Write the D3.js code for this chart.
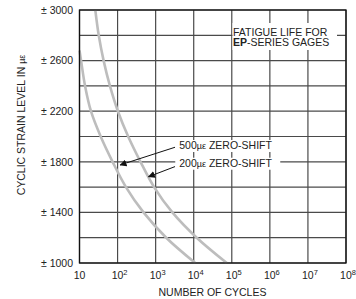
<!DOCTYPE html>
<html>
<head>
<meta charset="utf-8">
<script src="https://cdn.jsdelivr.net/npm/d3@7/dist/d3.min.js"></script>
<style>
  body { margin: 0; background: #fff; }
  text { font-family: "Liberation Sans", Arial, Helvetica, sans-serif; fill: #222; }
</style>
</head>
<body>
<div id="chart"></div>
<script>
// strain levels (micro-strain) and cycles
var strain500 = [2680, 2600, 2400, 2200, 2000, 1800, 1600, 1400, 1200, 1000];
var cycles500 = [10, 11, 14, 20, 36, 74, 166, 480, 1900, 11000];
var strain200 = [3000, 2800, 2600, 2400, 2200, 2000, 1800, 1600, 1400, 1200, 1000];
var cycles200 = [26, 32, 43, 63, 102, 190, 400, 910, 2750, 12000, 74000];

var yTicks = [1000, 1400, 1800, 2200, 2600, 3000];
var yGrid = d3.range(1000, 3001, 200);
var xExp = [1, 2, 3, 4, 5, 6, 7, 8];

// annotation: label anchor and arrow tip, in data units
var notes = [
  { label: "500", tipN: 117, tipS: 1775, fromN: 3230, fromS: 1915, textN: 4170, textS: 1901 },
  { label: "200", tipN: 650, tipS: 1682, fromN: 3230, fromS: 1762, textN: 4170, textS: 1761 }
];

var W = 356, H = 299;
var pLeft = 79.5, pRight = 346, pTop = 10, pBottom = 263;

var svg = d3.select("#chart").append("svg")
  .attr("width", W)
  .attr("height", H);

var x = d3.scaleLog().domain([10, 1e8]).range([pLeft, pRight]);
var y = d3.scaleLinear().domain([1000, 3000]).range([pBottom, pTop]);

// grid
svg.append("g").selectAll("line")
  .data(yGrid)
  .enter().append("line")
  .attr("x1", pLeft).attr("x2", pRight)
  .attr("y1", function(d) { return y(d); })
  .attr("y2", function(d) { return y(d); })
  .attr("stroke", "#4a4a4a")
  .attr("stroke-width", 1.2);

svg.append("g").selectAll("line")
  .data(xExp)
  .enter().append("line")
  .attr("x1", function(d) { return x(Math.pow(10, d)); })
  .attr("x2", function(d) { return x(Math.pow(10, d)); })
  .attr("y1", pTop).attr("y2", pBottom)
  .attr("stroke", "#4a4a4a")
  .attr("stroke-width", 1.2);

// curves
var line = d3.line()
  .x(function(d) { return x(d[0]); })
  .y(function(d) { return y(d[1]); })
  .curve(d3.curveCatmullRom);

[[cycles500, strain500], [cycles200, strain200]].forEach(function(s) {
  svg.append("path")
    .datum(d3.zip(s[0], s[1]))
    .attr("d", line)
    .attr("fill", "none")
    .attr("stroke", "#bdbdbd")
    .attr("stroke-width", 2.6);
});

// border
svg.append("rect")
  .attr("x", pLeft).attr("y", pTop)
  .attr("width", pRight - pLeft).attr("height", pBottom - pTop)
  .attr("fill", "none")
  .attr("stroke", "#111")
  .attr("stroke-width", 1.3);

// y tick labels
svg.append("g").selectAll("text")
  .data(yTicks)
  .enter().append("text")
  .attr("x", 73)
  .attr("y", function(d) { return y(d) + 3.8; })
  .attr("text-anchor", "end")
  .attr("font-size", 10.5)
  .text(function(d) { return "\u00b1 " + d; });

// x tick labels
var xl = svg.append("g").selectAll("text")
  .data(xExp)
  .enter().append("text")
  .attr("x", function(d) { return x(Math.pow(10, d)) + (d === 1 ? 0 : 2); })
  .attr("y", 279)
  .attr("text-anchor", "middle")
  .attr("font-size", 10.5);
xl.append("tspan").text("10");
xl.filter(function(d) { return d > 1; })
  .append("tspan")
  .attr("dy", -4.5)
  .attr("font-size", 7.5)
  .text(function(d) { return d; });

// axis titles
svg.append("text")
  .attr("x", 212.5).attr("y", 295.5)
  .attr("text-anchor", "middle")
  .attr("font-size", 10.5)
  .text("NUMBER OF CYCLES");

var yt = svg.append("text")
  .attr("transform", "translate(25,125) rotate(-90)")
  .attr("text-anchor", "middle")
  .attr("font-size", 10.5);
yt.append("tspan").text("CYCLIC STRAIN LEVEL IN ");
yt.append("tspan").attr("font-size", 9).text("\u00b5\u03b5");

// legend box
svg.append("rect")
  .attr("x", 232.5).attr("y", 23)
  .attr("width", 104.5).attr("height", 27)
  .attr("fill", "#fff");
svg.append("text")
  .attr("x", 233).attr("y", 35.5)
  .attr("font-size", 10.5)
  .text("FATIGUE LIFE FOR");
var l2 = svg.append("text")
  .attr("x", 233).attr("y", 46)
  .attr("font-size", 10.5);
l2.append("tspan").attr("font-weight", "bold").text("EP");
l2.append("tspan").text("-SERIES GAGES");

// annotations
svg.append("defs").append("marker")
  .attr("id", "arr")
  .attr("viewBox", "0 0 10 10")
  .attr("refX", 9).attr("refY", 5)
  .attr("markerWidth", 7).attr("markerHeight", 7)
  .attr("markerUnits", "userSpaceOnUse")
  .attr("orient", "auto")
  .append("path")
  .attr("d", "M0,0L10,5L0,10z")
  .attr("fill", "#111");

notes.forEach(function(n) {
  var tx = x(n.textN), ty = y(n.textS);
  svg.append("rect")
    .attr("x", tx - 4).attr("y", ty - 9)
    .attr("width", 105).attr("height", 12)
    .attr("fill", "#fff");
  var t = svg.append("text")
    .attr("x", tx).attr("y", ty)
    .attr("font-size", 10.5);
  t.append("tspan").text(n.label);
  t.append("tspan").attr("font-size", 9).text("\u00b5\u03b5");
  t.append("tspan").text(" ZERO-SHIFT");
  svg.append("line")
    .attr("x1", x(n.fromN)).attr("y1", y(n.fromS))
    .attr("x2", x(n.tipN)).attr("y2", y(n.tipS))
    .attr("stroke", "#111")
    .attr("stroke-width", 1)
    .attr("marker-end", "url(#arr)");
});
</script>
</body>
</html>
